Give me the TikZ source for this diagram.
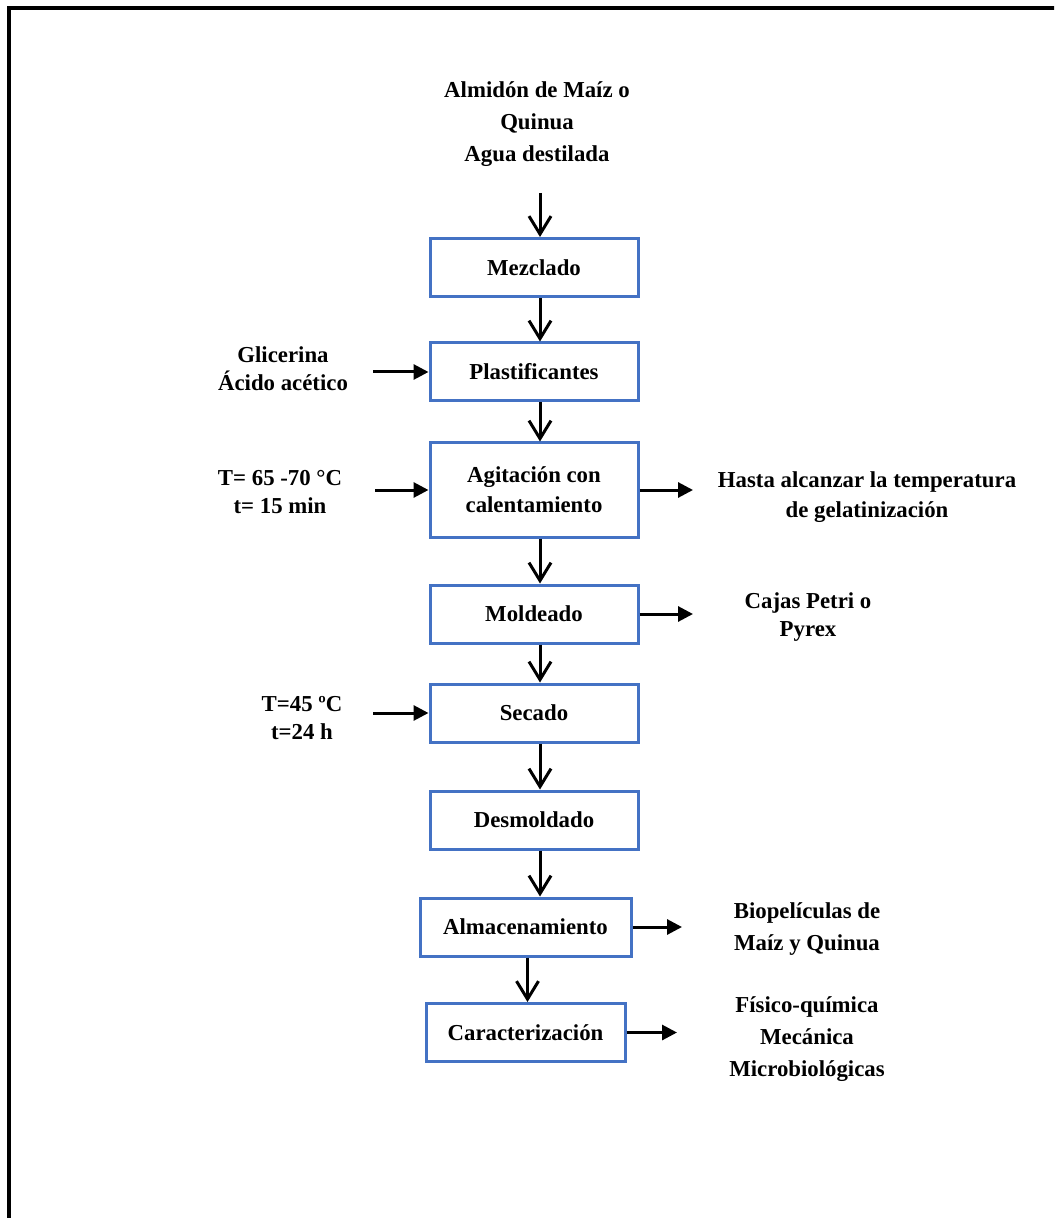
\documentclass[tikz,border=0pt]{standalone}
\usepackage{fontspec}
\setmainfont{Liberation Serif}
\usetikzlibrary{arrows.meta}
\definecolor{boxblue}{RGB}{68,114,196}
\begin{document}
\begin{tikzpicture}[x=0.5pt,y=-0.5pt,
  font=\fontsize{11.4}{14}\selectfont\bfseries,
  stepbox/.style={draw=boxblue, line width=1.5pt, align=center, minimum width=104pt, minimum height=29pt, inner sep=2pt},
  lbl/.style={align=center, inner sep=0pt},
  loose/.style={font=\fontsize{11.4}{16}\selectfont\bfseries},
  down/.style={-{Straight Barb[length=9pt,width=11pt]}, line width=1.5pt},
  side/.style={-{Triangle[length=7.5pt,width=7.5pt]}, line width=1.5pt}]
\useasboundingbox (0,0) rectangle (1054,1218);
\clip (0,0) rectangle (1054,1218);
\draw[line width=2pt] (9,8) rectangle (1080,1250);
\node[lbl, loose] (src) at (537,124) {Almidón de Maíz o\\Quinua\\Agua destilada};
\node[stepbox] (mez) at (534,267.5) {Mezclado};
\node[stepbox] (pla) at (534,372) {Plastificantes};
\node[stepbox, minimum height=47pt, font=\fontsize{11.4}{15}\selectfont\bfseries] (agi) at (534,490) {Agitación con\\calentamiento};
\node[stepbox] (mol) at (534,614) {Moldeado};
\node[stepbox] (sec) at (534,713) {Secado};
\node[stepbox] (des) at (534,820) {Desmoldado};
\node[stepbox, minimum width=105.5pt] (alm) at (525.5,927) {Almacenamiento};
\node[stepbox, minimum width=99.5pt] (car) at (525.5,1032.5) {Caracterización};
\node[lbl] (gli) at (283,369) {Glicerina\\Ácido acético};
\node[lbl] (t65) at (280,492) {T= 65 -70 °C\\t= 15 min};
\node[lbl, font=\fontsize{11.4}{15}\selectfont\bfseries] (gel) at (867,497) {Hasta alcanzar la temperatura\\de gelatinización};
\node[lbl] (caj) at (808,617) {Cajas Petri o\\Pyrex};
\node[lbl] (t45) at (302,718) {T=45 ºC\\t=24 h};
\node[lbl, loose] (bio) at (807,929) {Biopelículas de\\Maíz y Quinua};
\node[lbl, loose] (fis) at (807,1039) {Físico-química\\Mecánica\\Microbiológicas};
\coordinate (srcend) at (540,193);
\coordinate (gliend) at (373,372);
\coordinate (t65end) at (375,490);
\coordinate (gelend) at (693,490);
\coordinate (cajend) at (693,614);
\coordinate (t45end) at (373,713);
\coordinate (bioend) at (682,927);
\coordinate (fisend) at (677,1032.5);
\draw[down] (srcend) -- (srcend |- mez.north);
\draw[down] ([xshift=3pt]mez.south) -- ([xshift=3pt]pla.north);
\draw[down] ([xshift=3pt]pla.south) -- ([xshift=3pt]agi.north);
\draw[down] ([xshift=3pt]agi.south) -- ([xshift=3pt]mol.north);
\draw[down] ([xshift=3pt]mol.south) -- ([xshift=3pt]sec.north);
\draw[down] ([xshift=3pt]sec.south) -- ([xshift=3pt]des.north);
\draw[down] ([xshift=3pt]des.south) -- ([xshift=3pt]des.south |- alm.north);
\draw[down] ([xshift=1pt]alm.south) -- ([xshift=1pt]car.north);
\draw[side] (gliend) -- (pla.west);
\draw[side] (t65end) -- (agi.west);
\draw[side] (agi.east) -- (gelend);
\draw[side] (mol.east) -- (cajend);
\draw[side] (t45end) -- (sec.west);
\draw[side] (alm.east) -- (bioend);
\draw[side] (car.east) -- (fisend);
\end{tikzpicture}
\end{document}
